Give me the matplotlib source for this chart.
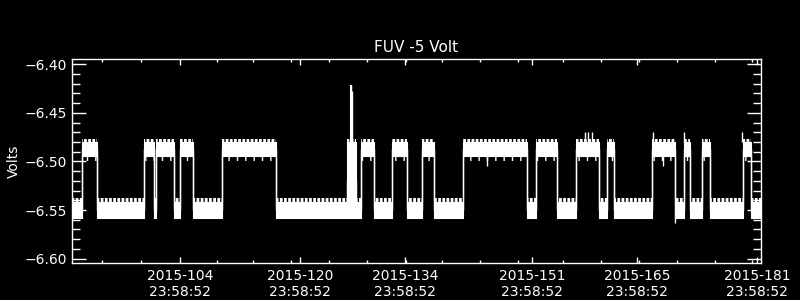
import numpy as np
import matplotlib
matplotlib.use('Agg')
import matplotlib.pyplot as plt

# switching points of the -5 V monitor (day of year 2015) and state of each stretch
seg_edges = [89.64, 90.97, 93.01, 99.23, 100.56, 100.83, 103.23, 104.03, 105.76,
             109.63, 116.82, 126.28, 127.48, 128.15, 129.88, 132.28, 134.28, 136.28,
             137.88, 141.74, 150.27, 151.47, 154.27, 156.80, 159.87, 160.94, 161.87,
             166.93, 169.99, 171.19, 171.99, 173.59, 174.66, 179.05, 180.12, 181.45]
seg_state = ['L', 'H', 'L', 'H', 'L', 'H', 'L', 'H', 'L', 'H', 'L', 'M', 'L', 'H',
             'L', 'H', 'L', 'H', 'L', 'H', 'L', 'H', 'L', 'H', 'L', 'H', 'L', 'H',
             'L', 'H', 'L', 'H', 'L', 'H', 'L']

# band limits of each state (volts): core top, core bottom, outer top, outer bottom
core_top = {'H': -6.480, 'L': -6.5414, 'M': -6.480}
core_bot = {'H': -6.4945, 'L': -6.5577, 'M': -6.5577}
outer_top = {'H': -6.477, 'L': -6.538, 'M': -6.477}
outer_bot = {'H': -6.4997, 'L': -6.5577, 'M': -6.5577}

# isolated spikes: day, base value, tip value
spike_days = [126.85, 126.99, 157.99, 158.39, 158.93, 167.06, 171.19, 179.01,
              168.39, 169.99, 144.94]
spike_base = [-6.54, -6.54, -6.48, -6.48, -6.48, -6.48, -6.48, -6.48,
              -6.49, -6.55, -6.49]
spike_tip = [-6.4216, -6.427, -6.4695, -6.4695, -6.4695, -6.4695, -6.4695,
             -6.4695, -6.505, -6.563, -6.505]

tick_days = [104, 120, 134, 151, 165, 181]
tick_labels = ['2015-104\n23:58:52', '2015-120\n23:58:52', '2015-134\n23:58:52',
               '2015-151\n23:58:52', '2015-165\n23:58:52', '2015-181\n23:58:52']
minor_days = [93.64, 98.84, 104.0, 108.96, 113.76, 118.82, 123.88, 128.95, 134.2,
              138.94, 144.01, 149.07, 155.07, 160.13, 165.2, 170.26, 175.32, 180.25]


def step_vals(table):
    v = [table[s] for s in seg_state]
    return np.array(v + [v[-1]])


x = np.array(seg_edges)
mid = (step_vals(core_top) + step_vals(core_bot)) / 2

plt.rcParams['font.family'] = 'DejaVu Sans'
plt.rcParams['hatch.color'] = 'white'
fig = plt.figure(figsize=(8, 3), dpi=100, facecolor='black')
ax = fig.add_axes([0.09, 0.1233, 0.861, 0.68])
ax.set_facecolor('black')

# outer ragged envelope, drawn as vertical hatch
plt.rcParams['hatch.linewidth'] = 2.0
ax.fill_between(x, step_vals(outer_top), step_vals(core_top), step='post',
                facecolor='none', edgecolor='white', hatch='||||', linewidth=0)
plt.rcParams['hatch.linewidth'] = 1.0
ax.fill_between(x, step_vals(core_bot), step_vals(outer_bot), step='post',
                facecolor='none', edgecolor='white', hatch='||', linewidth=0)
# solid core band
ax.fill_between(x, step_vals(core_top), step_vals(core_bot), step='post',
                color='white', linewidth=0.8, edgecolor='white')
# transitions
ax.step(x, mid, where='post', color='white', lw=1)
ax.vlines(spike_days, spike_base, spike_tip, color='white', lw=1)
ax.vlines(spike_days[0], spike_base[0], spike_tip[0], color='white', lw=1.5)

ax.set_xlim(89.64, 181.45)
ax.set_ylim(-6.6045, -6.3945)

yt = [-6.60, -6.55, -6.50, -6.45, -6.40]
ax.set_yticks(yt)
ax.set_yticklabels(['\u2212%.2f' % abs(v) for v in yt])
ax.set_yticks(np.arange(-6.60, -6.395, 0.01), minor=True)
ax.set_xticks(tick_days)
ax.set_xticklabels(tick_labels)
ax.set_xticks(minor_days, minor=True)

ax.tick_params(axis='both', which='both', direction='in', colors='white',
               labelsize=10, width=1, top=True, right=True)
ax.tick_params(axis='y', which='major', length=10, pad=3.5)
ax.tick_params(axis='y', which='minor', length=5.8)
ax.tick_params(axis='x', which='major', length=4, pad=4)
ax.tick_params(axis='x', which='minor', length=2)
for sp in ax.spines.values():
    sp.set_color('white')
    sp.set_linewidth(1)

ax.set_title('FUV -5 Volt', color='white', fontsize=11, pad=5)
ax.set_ylabel('Volts', color='white', fontsize=10, labelpad=3)

fig.savefig('out.png', dpi=100, facecolor='black')
